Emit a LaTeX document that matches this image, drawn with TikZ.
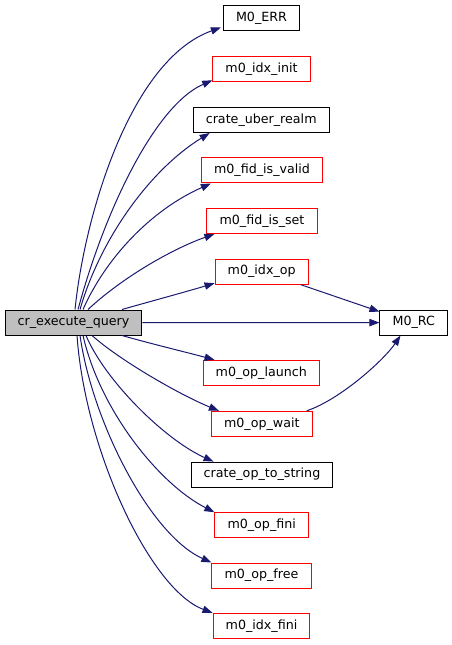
\documentclass[tikz,border=0pt]{standalone}
\usepackage{fontspec}
\setmainfont{DejaVu Sans}
\usetikzlibrary{arrows.meta, calc}
\definecolor{edgeblue}{HTML}{191970}
\definecolor{rootgray}{HTML}{BFBFBF}
\definecolor{docred}{HTML}{FF0000}

\begin{document}
\begin{tikzpicture}[
    x=0.75pt, y=-0.75pt,
    >={Triangle[length=7.5pt, width=5.5pt]},
    fn/.style={
        draw=#1, fill=white, line width=0.75pt,
        minimum height=18.75pt, inner xsep=9.5pt, inner ysep=0pt,
        text height=7pt, text depth=2.2pt,
        font=\fontsize{9.5}{11}\selectfont, text=black
    },
    fn/.default=black,
    ext/.style={fn=docred},
    root/.style={fn=black, fill=rootgray},
    call/.style={->, draw=edgeblue, line width=0.75pt}
]
\useasboundingbox (0,0) rectangle (452,645);

% === Caller ===
\node[root] (query) at (73.5,322.5) {cr\_execute\_query};

% === Callees (one column) ===
\node[fn]  (err)      at (261.5,18.5)  {M0\_ERR};
\node[ext] (idxinit)  at (261.5,69.3)  {m0\_idx\_init};
\node[fn]  (uber)     at (261.2,120)   {crate\_uber\_realm};
\node[ext] (fidvalid) at (262,170.5)   {m0\_fid\_is\_valid};
\node[ext] (fidset)   at (262,221)     {m0\_fid\_is\_set};
\node[ext] (idxop)    at (261.7,271.7) {m0\_idx\_op};
\node[ext] (launch)   at (261.3,372.8) {m0\_op\_launch};
\node[ext] (wait)     at (261.8,423.8) {m0\_op\_wait};
\node[fn]  (tostr)    at (262,474.6)   {crate\_op\_to\_string};
\node[ext] (fini)     at (261.7,525.2) {m0\_op\_fini};
\node[ext] (free)     at (261.5,575.5) {m0\_op\_free};
\node[ext] (idxfini)  at (261.5,625.8) {m0\_idx\_fini};

% return code macro
\node[fn]  (rc)       at (413.8,322.6) {M0\_RC};

% === Calls upwards ===
\draw[call] ($(query.north west)+(70.5,0)$) .. controls +(9,-90) and +(-92,33) .. ($(err.south west)+(-2,-4)$);
\draw[call] ($(query.north west)+(73.5,0)$) .. controls +(27,-100) and +(-57,25) .. ($(idxinit.south west)+(0,-2)$);
\draw[call] ($(query.north west)+(75.5,0)$) .. controls +(20,-70) and +(-60,37) .. ($(uber.south west)+(17,0)$);
\draw[call] ($(query.north west)+(78.5,0)$) .. controls +(22,-50) and +(-61,27) .. ($(fidvalid.south west)+(10,0)$);
\draw[call] ($(query.north west)+(83.5,0)$) .. controls +(32,-30) and +(-45,16) .. ($(fidset.south west)+(8,0)$);
\draw[call] ($(query.north west)+(117.5,0)$) .. controls +(28,-8) and +(-30,9) .. ($(idxop.south west)+(0,-1.5)$);

% === Straight to M0_RC ===
\draw[call] (query.east) -- (rc.west);

% === Calls downwards ===
\draw[call] ($(query.south west)+(117.5,0)$) .. controls +(28,8) and +(-30,-8) .. ($(launch.north west)+(12,0)$);
\draw[call] ($(query.south west)+(87.5,0)$) .. controls +(28,25) and +(-39,-16) .. ($(wait.north west)+(8,0)$);
\draw[call] ($(query.south west)+(81.5,0)$) .. controls +(19,45) and +(-49,-22) .. ($(tostr.north west)+(23,0)$);
\draw[call] ($(query.south west)+(78.5,0)$) .. controls +(17,75) and +(-55,-28) .. (fini.north west);
\draw[call] ($(query.south west)+(75.5,0)$) .. controls +(12,85) and +(-62,-28) .. (free.north west);
\draw[call] ($(query.south west)+(72.5,0)$) .. controls +(8,115) and +(-62,-23) .. (idxfini.north west);

% === Callees that use M0_RC ===
\draw[call] ($(idxop.south east)+(-8,0)$) -- ($(rc.north west)+(0,2)$);
\draw[call] ($(wait.north east)+(-6,0)$) .. controls +(33,-11) and +(-17,25) .. ($(rc.south west)+(21,0)$);

\end{tikzpicture}
\end{document}
